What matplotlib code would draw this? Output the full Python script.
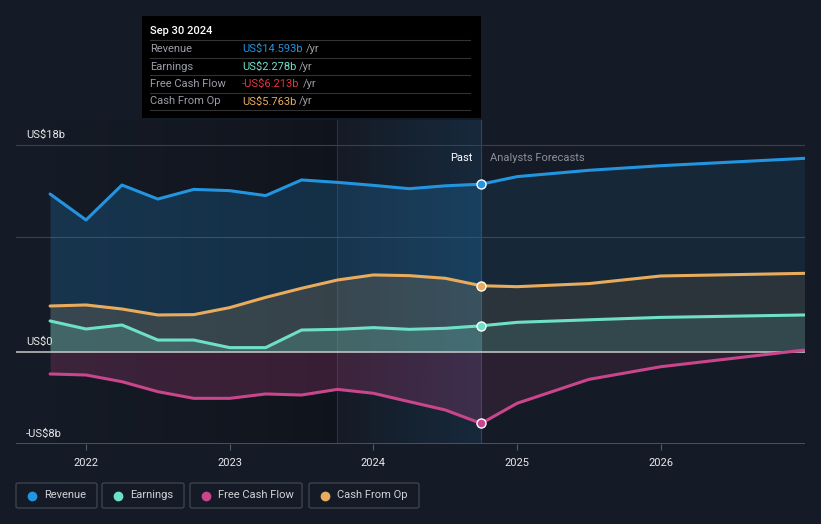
import numpy as np
import matplotlib.pyplot as plt
from matplotlib.patches import Rectangle, FancyBboxPatch
from matplotlib.colors import to_rgb

plt.rcParams['font.family'] = ['Roboto', 'DejaVu Sans']

# quarterly history (fractional years) and analyst forecasts
past_x = [2021.75, 2022.0, 2022.25, 2022.5, 2022.75, 2023.0, 2023.25,
          2023.5, 2023.75, 2024.0, 2024.25, 2024.5, 2024.75]
revenue_past = [13.74, 11.48, 14.52, 13.3, 14.14, 14.03, 13.6,
                14.96, 14.75, 14.49, 14.2, 14.45, 14.593]
earnings_past = [2.70, 2.0, 2.35, 1.04, 1.04, 0.38, 0.38,
                 1.91, 1.97, 2.12, 1.97, 2.06, 2.278]
fcf_past = [-1.91, -2.0, -2.58, -3.45, -4.03, -4.03, -3.65,
            -3.74, -3.25, -3.59, -4.32, -5.04, -6.213]
cfo_past = [4.0, 4.09, 3.74, 3.22, 3.25, 3.86, 4.75,
            5.54, 6.26, 6.7, 6.64, 6.41, 5.763]

fc_x = [2024.75, 2025.0, 2025.5, 2026.0, 2027.0]
revenue_fc = [14.593, 15.25, 15.8, 16.2, 16.84]
earnings_fc = [2.278, 2.58, 2.8, 3.01, 3.22]
fcf_fc = [-6.213, -4.46, -2.38, -1.28, 0.17]
cfo_fc = [5.763, 5.68, 5.95, 6.61, 6.84]

years = [2022, 2023, 2024, 2025, 2026]

BG = '#151b26'
C_REV = '#2394df'
C_EARN = '#6fe0c8'
C_FCF = '#c9458c'
C_CFO = '#e9ac5d'

W, H = 821, 524
fig = plt.figure(figsize=(W / 100, H / 100), dpi=100, facecolor=BG)


def fx(x):
    return x / W


def fy(y):
    return 1 - y / H


# axes spans pixel x 16..805, y 120..444
ax = fig.add_axes([fx(16), fy(444), fx(805) - fx(16), (444 - 120) / H])
ax.set_facecolor(BG)
x0 = 2022 + (16 - 86) / 143.7
x1 = 2022 + (805 - 86) / 143.7
ymin, ymax = -8, (352 - 120) / 11.5
ax.set_xlim(x0, x1)
ax.set_ylim(ymin, ymax)
for s in ax.spines.values():
    s.set_visible(False)
ax.set_yticks([])
ax.set_xticks(years)
ax.set_xticklabels([str(y) for y in years], color='#e8e8e8', fontsize=8)
ax.tick_params(axis='x', length=4, color='#555a63', pad=6)

# darkening of early history and highlight of the last year
grad = np.linspace(0, 1, 200).reshape(1, -1)
dark = np.zeros((1, 200, 4))
dark[..., 3] = grad * 0.25
ax.imshow(dark, extent=[2021.75, 2023.75, ymin, ymax], aspect='auto', zorder=0)
blue = np.zeros((1, 200, 4))
blue[..., :3] = to_rgb(C_REV)
blue[..., 3] = grad * 0.12
ax.imshow(blue, extent=[2023.75, 2024.75, ymin, ymax], aspect='auto', zorder=0)
ax.axvline(2023.75, color='#22324a', lw=0.8, zorder=0.5)
ax.axvline(2024.75, color='#2a4560', lw=0.8, zorder=0.5)

# grid lines
for g in [18, 10]:
    ax.axhline(g, color='#3a404b', lw=0.8, zorder=0.6)
ax.axhline(ymin, color='#555a63', lw=1.2, zorder=0.6)

# fills and lines
series = [
    (revenue_past, revenue_fc, C_REV, 0.22, 0.10),
    (cfo_past, cfo_fc, C_CFO, 0.16, 0.10),
    (earnings_past, earnings_fc, C_EARN, 0.20, 0.12),
    (fcf_past, fcf_fc, C_FCF, 0.22, 0.12),
]
z = 1
for past, fc, col, a_p, a_f in series:
    ax.fill_between(past_x, 0, past, color=col, alpha=a_p, lw=0, zorder=z)
    ax.fill_between(fc_x, 0, fc, color=col, alpha=a_f, lw=0, zorder=z)
    z += 1
ax.axhline(0, color='#c8c8c8', lw=1.1, zorder=6)
for past, fc, col, a_p, a_f in series:
    ax.plot(past_x, past, color=col, lw=2.2, solid_joinstyle='round',
            solid_capstyle='round', zorder=7)
    ax.plot(fc_x, fc, color=col, lw=2.2, solid_joinstyle='round',
            solid_capstyle='round', zorder=7)
    ax.plot([past_x[-1]], [past[-1]], 'o', ms=6.5, mfc=col, mec='white',
            mew=1.0, zorder=8)

# y labels
ax.text(x0 + 0.07, 18.4, 'US$18b', color='#e8e8e8', fontsize=8, va='bottom')
ax.text(x0 + 0.07, 0.4, 'US$0', color='#e8e8e8', fontsize=8, va='bottom')
ax.text(x0 + 0.07, -7.6, '-US$8b', color='#e8e8e8', fontsize=8, va='bottom')
ax.text(2024.69, 16.9, 'Past', color='#ffffff', fontsize=8, ha='right', va='center')
ax.text(2024.81, 16.9, 'Analysts Forecasts', color='#8a8f98', fontsize=8,
        ha='left', va='center')

# tooltip
fig.patches.append(Rectangle((fx(142), fy(118)), fx(481) - fx(142),
                             (118 - 16) / H, transform=fig.transFigure,
                             facecolor='#000000', edgecolor='none', zorder=10))
fig.text(fx(150), fy(31), 'Sep 30 2024', color='#ffffff', fontsize=8,
         fontweight='medium', va='center', zorder=11)
rows = [('Revenue', 'US$14.593b', C_REV),
        ('Earnings', 'US$2.278b', C_EARN),
        ('Free Cash Flow', '-US$6.213b', '#e5353f'),
        ('Cash From Op', 'US$5.763b', C_CFO)]
for i, (lab, val, col) in enumerate(rows):
    yy = 49 + i * 17.5
    fig.text(fx(150), fy(yy), lab, color='#9a9ea6', fontsize=8, va='center', zorder=11)
    t = fig.text(fx(242), fy(yy), val, color=col, fontsize=8, va='center', zorder=11)
    fig.canvas.draw()
    bb = t.get_window_extent()
    fig.text(bb.x1 / W + 3 / W, fy(yy), '/yr', color='#9a9ea6', fontsize=8,
             va='center', zorder=11)
for yy in [40, 57.5, 75, 92.5, 110]:
    fig.add_artist(plt.Line2D([fx(150), fx(470)], [fy(yy), fy(yy)],
                              color='#333333', lw=0.8, zorder=11))

# legend boxes
legend = [('Revenue', C_REV, 16, 97), ('Earnings', C_EARN, 102, 184),
          ('Free Cash Flow', C_FCF, 190, 302), ('Cash From Op', C_CFO, 309, 419)]
for lab, col, l, r in legend:
    fig.patches.append(FancyBboxPatch((fx(l), fy(508)), fx(r) - fx(l), 25 / H,
                                      boxstyle='round,pad=0,rounding_size=0.003',
                                      transform=fig.transFigure, facecolor='none',
                                      edgecolor='#3d424c', lw=1))
    fig.add_artist(plt.Line2D([fx(l + 16)], [fy(495.5)], marker='o', ms=6,
                              color=col, lw=0))
    fig.text(fx(l + 28), fy(495.5), lab, color='#d0d2d6', fontsize=8, va='center')

fig.savefig('out.png', dpi=100, facecolor=BG)
